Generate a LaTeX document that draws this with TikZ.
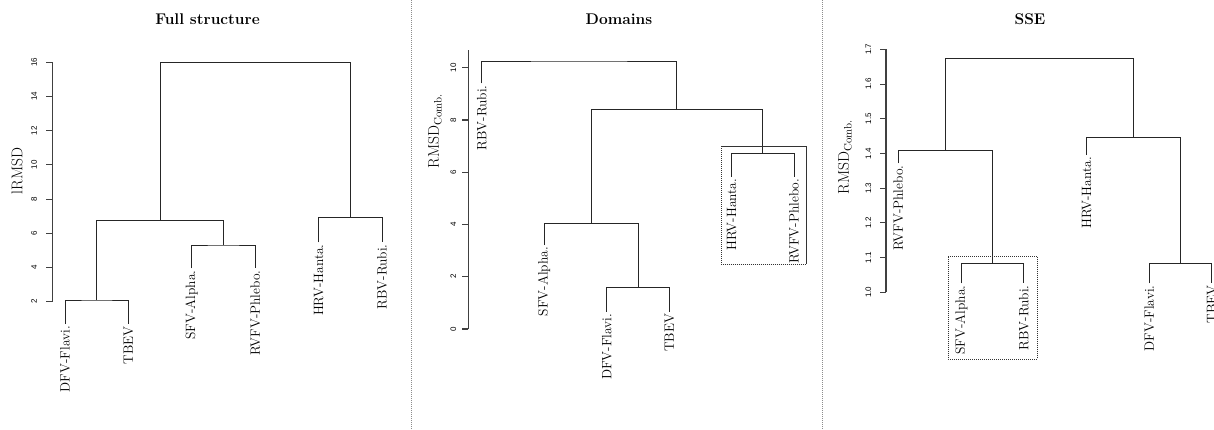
\documentclass[tikz,border=0pt]{standalone}
\usepackage{fontspec}
\newfontfamily\tickfont{Liberation Sans}
\begin{document}
\begin{tikzpicture}[x=1pt,y=-1pt,
  dend/.style={draw=black!85,line width=1pt},
  leaf/.style={rotate=90,anchor=east,inner sep=2pt,font=\fontsize{13.5}{15}\selectfont},
  ttl/.style={font=\fontsize{15.5}{18}\selectfont\bfseries},
  ylab/.style={rotate=90,font=\fontsize{15.5}{18}\selectfont},
  ticklab/.style={rotate=90,font=\tickfont\fontsize{8}{9}\selectfont,inner sep=0pt},
  axisline/.style={draw=black!75,line width=1.1pt},
  clbox/.style={draw=black!80,line width=0.8pt,dash pattern=on 1.2pt off 0.8pt},
  sep/.style={draw=black!45,line width=0.8pt,dash pattern=on 1pt off 1pt}]
\useasboundingbox (0,0) rectangle (1214,429);

% separators
\coordinate (s1t) at (411.7,0); \coordinate (s1b) at (411.7,429);
\coordinate (s2t) at (822.7,0); \coordinate (s2b) at (822.7,429);
\draw[sep] (s1t) -- (s1b);
\draw[sep] (s2t) -- (s2b);

% ================= Panel 1 =================
\node[ttl] (t1) at (207.5,19) {Full structure};
\node[ylab] (y1) at (17,171) {lRMSD};
\draw[axisline] (52.3,62.3) -- (52.3,301.7);
\foreach \v [count=\i] in {2,4,...,16}{
  \pgfmathsetmacro\yy{301.7-(\v-2)*17.1}
  \draw[axisline] (52.3,\yy) -- (46.3,\yy);
  \node[ticklab] (a1n\i) at (34,\yy) {\v};
}
\node[leaf] (dfv1) at (65,324) {DFV-Flavi.};
\node[leaf] (tbev1) at (128.3,324) {TBEV};
\node[leaf] (sfv1) at (191.7,268.3) {SFV-Alpha.};
\node[leaf] (rvfv1) at (255.3,268.3) {RVFV-Phlebo.};
\node[leaf] (hrv1) at (318.7,242.3) {HRV-Hanta.};
\node[leaf] (rbv1) at (382,242.3) {RBV-Rubi.};
\coordinate (m1a) at (96.7,300);
\coordinate (m1b) at (223.5,245);
\coordinate (m1c) at (160.1,220.7);
\coordinate (m1d) at (350.3,217.7);
\coordinate (m1e) at (255.2,62.3);
\draw[dend] (dfv1.east) |- (m1a) -| (tbev1.east);
\draw[dend] (sfv1.east) |- (m1b) -| (rvfv1.east);
\draw[dend] (m1a) |- (m1c) -| (m1b);
\draw[dend] (hrv1.east) |- (m1d) -| (rbv1.east);
\draw[dend] (m1c) |- (m1e) -| (m1d);

% ================= Panel 2 =================
\node[ttl] (t2) at (619,19) {Domains};
\node[ylab] (y2) at (435,131) {RMSD$_{\mathrm{Comb.}}$};
\draw[axisline] (468.3,50) -- (468.3,329);
\foreach \v [count=\i] in {0,2,...,10}{
  \pgfmathsetmacro\yy{329-\v*26.13}
  \draw[axisline] (468.3,\yy) -- (462.3,\yy);
  \node[ticklab] (a2n\i) at (453.3,\yy) {\v};
}
\node[leaf] (rbv2) at (481.7,83.3) {RBV-Rubi.};
\node[leaf] (sfv2) at (544,245) {SFV-Alpha.};
\node[leaf] (dfv2) at (606.7,311.7) {DFV-Flavi.};
\node[leaf] (tbev2) at (669.3,311.7) {TBEV};
\node[leaf] (hrv2) at (731.7,176.7) {HRV-Hanta.};
\node[leaf] (rvfv2) at (794,176.7) {RVFV-Phlebo.};
\coordinate (m2a) at (762.8,153.3);
\coordinate (m2b) at (638,287.7);
\coordinate (m2c) at (591,223.3);
\coordinate (m2d) at (676.9,109.3);
\coordinate (m2e) at (579.3,61);
\draw[dend] (hrv2.east) |- (m2a) -| (rvfv2.east);
\draw[dend] (dfv2.east) |- (m2b) -| (tbev2.east);
\draw[dend] (sfv2.east) |- (m2c) -| (m2b);
\draw[dend] (m2c) |- (m2d) -| (m2a);
\draw[dend] (rbv2.east) |- (m2e) -| (m2d);
\draw[clbox] (721,146) rectangle (806,264.3);

% ================= Panel 3 =================
\node[ttl] (t3) at (1030,19) {SSE};
\node[ylab] (y3) at (845,157) {RMSD$_{\mathrm{Comb.}}$};
\draw[axisline] (886,49.3) -- (886,292.3);
\foreach \v [count=\i] in {1.0,1.1,1.2,1.3,1.4,1.5,1.6,1.7}{
  \pgfmathsetmacro\yy{292.3-(\v-1)*347}
  \draw[axisline] (886,\yy) -- (880,\yy);
  \node[ticklab] (a3n\i) at (868.3,\yy) {\v};
}
\node[leaf] (rvfv3) at (898.3,163.3) {RVFV-Phlebo.};
\node[leaf] (sfv3) at (961.3,283.3) {SFV-Alpha.};
\node[leaf] (rbv3) at (1023.7,283.3) {RBV-Rubi.};
\node[leaf] (hrv3) at (1086.7,155) {HRV-Hanta.};
\node[leaf] (dfv3) at (1149.3,283.3) {DFV-Flavi.};
\node[leaf] (tbev3) at (1211.7,283.3) {TBEV};
\coordinate (m3a) at (992.5,263.3);
\coordinate (m3b) at (945.4,150.3);
\coordinate (m3c) at (1180.5,263.3);
\coordinate (m3d) at (1133.6,137.3);
\coordinate (m3e) at (1039.5,58.3);
\draw[dend] (sfv3.east) |- (m3a) -| (rbv3.east);
\draw[dend] (rvfv3.east) |- (m3b) -| (m3a);
\draw[dend] (dfv3.east) |- (m3c) -| (tbev3.east);
\draw[dend] (hrv3.east) |- (m3d) -| (m3c);
\draw[dend] (m3b) |- (m3e) -| (m3d);
\draw[clbox] (948.3,256.7) rectangle (1037.3,359);
\end{tikzpicture}
\end{document}
